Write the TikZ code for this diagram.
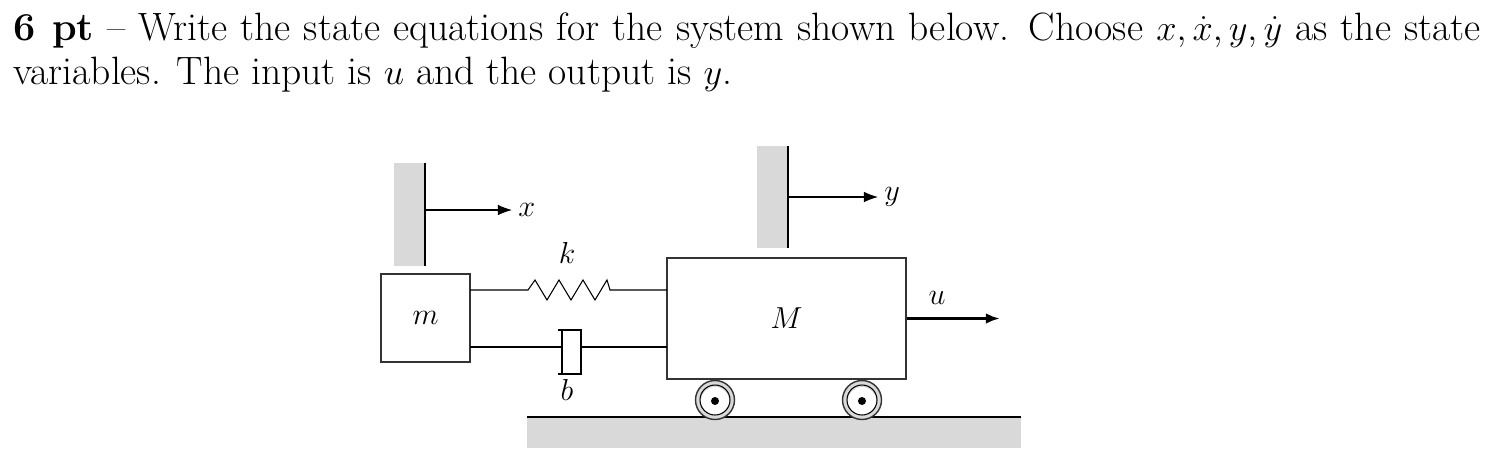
\documentclass[tikz,border=0pt]{standalone}
\usepackage{amsmath}
\usepackage{tikz}
\usetikzlibrary{positioning,arrows.meta}

\begin{document}
\begin{tikzpicture}[
      x=0.02cm, y=-0.02cm,
      wall/.style={fill=black!15, draw=none},
      body/.style={draw=black!80, thick, fill=white},
      lbl/.style={font=\LARGE\itshape},
      semithick, >={Latex[length=8pt,width=6pt]}
      ]
      \useasboundingbox (0,0) rectangle (1490,467);

      % question text
      \node[anchor=north west, inner sep=0, text width=29.35cm, align=justify,
            font=\fontsize{22.5}{25}\selectfont] (q) at (13,12)
        {\textbf{6 pt} -- Write the state equations for the system shown below. Choose $x,\dot{x},y,\dot{y}$ as the state\linebreak variables. The input is $u$ and the output is $y$.};

      % walls and ground
      \fill[wall] (394,163) rectangle (425,266);
      \fill[wall] (757,146) rectangle (788,248);
      \fill[wall] (527,417) rectangle (1021,448);
      \coordinate (gl) at (527,417);
      \coordinate (gr) at (1021,417);
      \draw[thick] (gl) -- (gr);
      \coordinate (w1t) at (425,163);
      \coordinate (w1b) at (425,266);
      \coordinate (w2t) at (788,146);
      \coordinate (w2b) at (788,248);
      \draw[thick] (w1t) -- (w1b);
      \draw[thick] (w2t) -- (w2b);

      % masses
      \node[body, minimum width=1.78cm, minimum height=1.76cm] (m) at (425.5,318) {};
      \node[lbl] at (m) {$m$};
      \node[body, minimum width=4.78cm, minimum height=2.42cm] (M) at (786.5,318.5) {};
      \node[lbl] at (M) {$M$};

      % wheels
      \foreach \wx/\wn in {715/wa, 862/wb} {
        \node[circle, draw=black!80, thick, fill=black!15, minimum size=0.78cm, inner sep=0] (\wn) at (\wx,400) {};
        \fill[white] (\wx,401) circle (14);
        \draw (\wx,400) circle (15);
        \fill (\wx,401) circle (4);
      }

      % spring
      \coordinate (s0) at (470,290);
      \coordinate (s1) at (667,290);
      \draw (s0) -- (528,290) -- (535,280) -- ++(12,20) -- ++(12,-20) -- ++(12,20)
        -- ++(12,-20) -- ++(12,20) -- ++(12,-20) -- (610,290) -- (s1);
      \node[lbl] (k) at (567,253) {$k$};

      % damper
      \coordinate (d0) at (470,347);
      \coordinate (d1) at (667,347);
      \draw (d0) -- (562,347);
      \draw[thick] (562,330) -- (562,374);
      \draw (558,330) -- (581,330) -- (581,374) -- (558,374);
      \draw (581,347) -- (d1);
      \node[lbl] (b) at (567,390) {$b$};

      % displacements and input
      \draw[->] (425,210) -- (512,210) node[lbl, right] (x) {$x$};
      \draw[->] (788,197) -- (878,197) node[lbl, right] (y) {$y$};
      \coordinate (ue) at (1000,318.5);
      \draw[->, line width=2.2pt] (M.east) -- (ue);
      \node[lbl] (u) at (937,298) {$u$};

\end{tikzpicture}
\end{document}
